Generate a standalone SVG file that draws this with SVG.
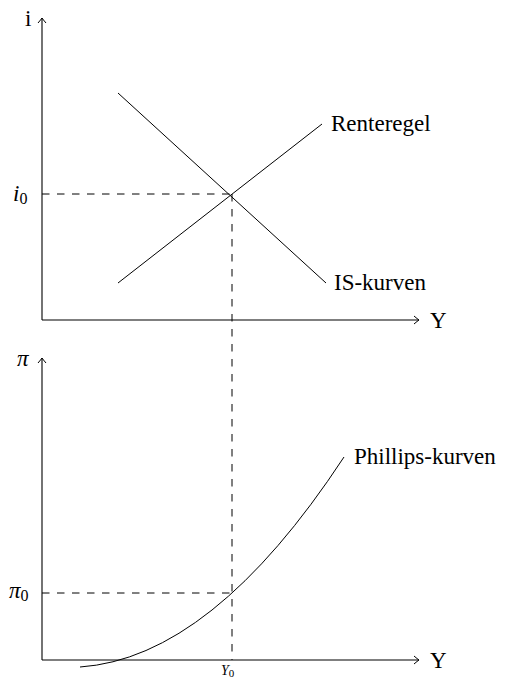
<svg xmlns="http://www.w3.org/2000/svg" width="506" height="685" viewBox="0 0 506 685">
<style>
.ax{stroke:#000;stroke-width:1.1;fill:none}
.ln{stroke:#000;stroke-width:1;fill:none}
.ds{stroke:#000;stroke-width:1;fill:none;stroke-dasharray:7.5 7.5}
text{font-family:"Liberation Serif","DejaVu Serif",serif;fill:#000}
.lb{font-size:23px}
.it{font-style:italic}
</style>
<defs>
<marker id="arr" viewBox="-6 -5 8 10" markerWidth="8" markerHeight="10" refX="0" refY="0" orient="auto" markerUnits="userSpaceOnUse">
<path d="M-5,-4 Q-1.5,-1 0,0 Q-1.5,1 -5,4" fill="none" stroke="#000" stroke-width="1"/>
</marker>
</defs>
<rect width="506" height="685" fill="#fff"/>
<g id="connectors">
<line class="ds" x1="42" y1="194" x2="232" y2="194"/>
<line class="ds" x1="232" y1="194" x2="232" y2="660"/>
<line class="ds" x1="42" y1="593" x2="232" y2="593"/>
</g>
<g id="axes-top">
<line class="ax" x1="42" y1="320" x2="42" y2="18" marker-end="url(#arr)"/>
<line class="ax" x1="42" y1="320" x2="419" y2="320" marker-end="url(#arr)"/>
<text class="lb" x="25" y="26">i</text>
<text class="lb" x="430" y="328">Y</text>
</g>
<g id="axes-bottom">
<line class="ax" x1="42" y1="660" x2="42" y2="358" marker-end="url(#arr)"/>
<line class="ax" x1="42" y1="660" x2="419" y2="660" marker-end="url(#arr)"/>
<text class="lb it" x="17" y="366">π</text>
<text class="lb" x="430" y="668">Y</text>
</g>
<g id="is-kurven">
<line class="ln" x1="118" y1="93" x2="326" y2="283"/>
<text class="lb" x="334" y="290">IS-kurven</text>
</g>
<g id="renteregel">
<line class="ln" x1="118" y1="283" x2="322" y2="124"/>
<text class="lb" x="331" y="131">Renteregel</text>
</g>
<g id="phillips-kurven">
<path class="ln" d="M80,667 Q212,658 344,457"/>
<text class="lb" x="354" y="464">Phillips-kurven</text>
</g>
<g id="labels">
<text class="lb" x="13" y="201"><tspan class="it">i</tspan><tspan font-size="16" dy="3">0</tspan></text>
<text class="lb" x="9" y="598"><tspan class="it">π</tspan><tspan font-size="16" dy="3">0</tspan></text>
<text x="221" y="675" font-size="14"><tspan class="it">Y</tspan><tspan font-size="11" dy="2">0</tspan></text>
</g>
</svg>
